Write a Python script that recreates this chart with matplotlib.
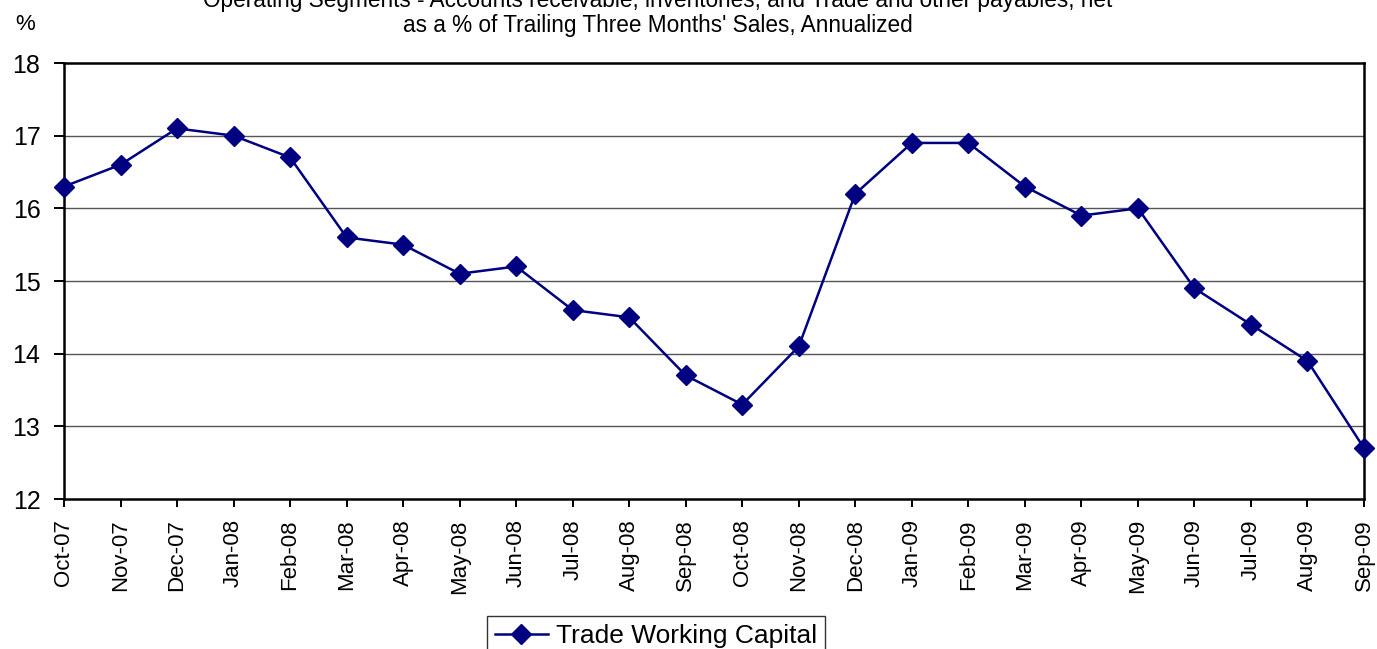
import matplotlib
matplotlib.use("Agg")
import matplotlib.pyplot as plt

plt.rcParams['font.family'] = ['Liberation Sans', 'DejaVu Sans']

months = ["Oct-07", "Nov-07", "Dec-07", "Jan-08", "Feb-08", "Mar-08", "Apr-08", "May-08",
          "Jun-08", "Jul-08", "Aug-08", "Sep-08", "Oct-08", "Nov-08", "Dec-08", "Jan-09",
          "Feb-09", "Mar-09", "Apr-09", "May-09", "Jun-09", "Jul-09", "Aug-09", "Sep-09"]
values = [16.3, 16.6, 17.1, 17.0, 16.7, 15.6, 15.5, 15.1, 15.2, 14.6, 14.5, 13.7,
          13.3, 14.1, 16.2, 16.9, 16.9, 16.3, 15.9, 16.0, 14.9, 14.4, 13.9, 12.7]
yticks = [12, 13, 14, 15, 16, 17, 18]
series_name = "Trade Working Capital"
title = ("Operating Segments - Accounts receivable, inventories, and Trade and other payables, net\n"
         "as a % of Trailing Three Months' Sales, Annualized")

fig = plt.figure(figsize=(13.77, 6.49), dpi=100)
ax = fig.add_axes([64/1377, 1-499/649, 1300/1377, 436/649])

x = list(range(len(months)))
ax.plot(x, values, color="#000080", lw=1.8, marker="D", markersize=10,
        markerfacecolor="#000080", markeredgecolor="#000080", label=series_name,
        clip_on=False, zorder=3)

ax.set_xlim(0, len(months) - 1)
ax.set_ylim(12, 18)
ax.set_yticks(yticks)
ax.set_yticklabels([str(v) for v in yticks], fontsize=18)
ax.set_xticks(x)
ax.set_xticklabels(months, rotation=90, fontsize=16)
ax.tick_params(axis='x', direction='out', length=5.5, width=1.4, color='black', pad=9)
ax.tick_params(axis='y', direction='out', length=7, width=1.4, color='black', pad=10)
for s in ax.spines.values():
    s.set_linewidth(1.8)
    s.set_color('black')
for yv in yticks[1:-1]:
    ax.axhline(yv, color='#555555', lw=1.0, zorder=1)

fig.text(658/1377, 1 - 13/649, title, ha='center', va='center', fontsize=16.3,
         linespacing=1.1)
fig.text(25/1377, 1 - 25/649, "%", ha='center', va='center', fontsize=16)

leg = fig.legend(loc='center', bbox_to_anchor=(656/1377, 1 - 636/649), fontsize=19,
                 frameon=True, fancybox=False, edgecolor='black', handlelength=2.0,
                 borderpad=0.3, handletextpad=0.3, markerscale=1.0)
leg.get_frame().set_linewidth(1.0)

fig.savefig("out.png", dpi=100)
